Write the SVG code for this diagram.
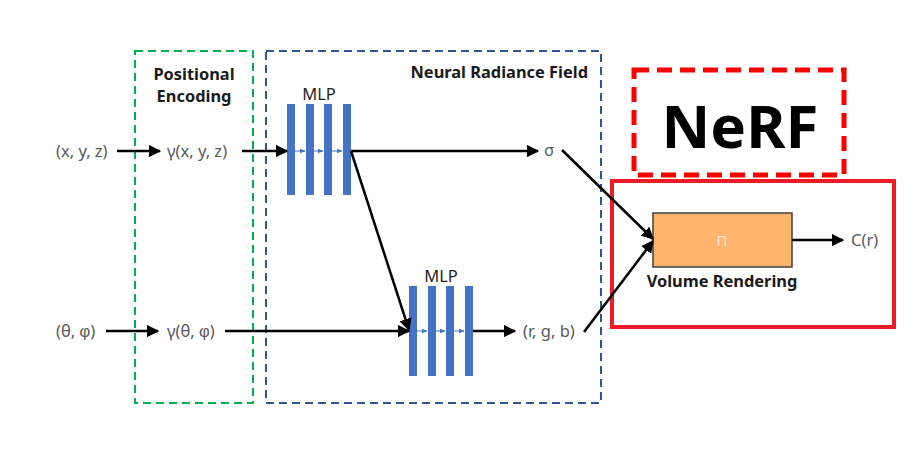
<svg xmlns="http://www.w3.org/2000/svg" width="924" height="451" viewBox="0 0 924 451">
<defs>
<marker id="ah" viewBox="0 0 10 10" refX="9" refY="5" markerWidth="5" markerHeight="5" orient="auto" markerUnits="strokeWidth"><path d="M0,0 L10,5 L0,10 z" fill="#000"/></marker>
<marker id="ahs" viewBox="0 0 10 10" refX="9" refY="5" markerWidth="6" markerHeight="6" orient="auto" markerUnits="strokeWidth"><path d="M0,1 L10,5 L0,9 z" fill="#4472C4"/></marker>
<style>
.lbl{font-family:"Noto Sans","Open Sans",sans-serif;font-size:16.5px;fill:#595959}
.phi{font-family:"Liberation Sans",sans-serif}
.bold{font-family:"Noto Sans","Open Sans",sans-serif;font-size:16.4px;font-weight:bold;fill:#1a1a1a}
.mlp{font-family:"Noto Sans","Open Sans",sans-serif;font-size:16.5px;fill:#262626}
.bar{fill:#4472C4}
.c{stroke:#000;stroke-width:2.5;fill:none;marker-end:url(#ah)}
.s{stroke:#4472C4;stroke-width:1;fill:none;marker-end:url(#ahs)}
</style>
</defs>
<rect width="924" height="451" fill="#fff"/>
<g id="pe-box">
<rect x="135" y="51" width="118" height="352" fill="none" stroke="#00B050" stroke-width="2" stroke-dasharray="8,5"/>
<text class="bold" x="194" y="80" text-anchor="middle">Positional</text>
<text class="bold" x="194" y="102" text-anchor="middle">Encoding</text>
</g>
<g id="nrf-box">
<rect x="266" y="51" width="335" height="352" fill="none" stroke="#2F5597" stroke-width="2" stroke-dasharray="8,5"/>
<text class="bold" x="588" y="78" text-anchor="end">Neural Radiance Field</text>
</g>
<g id="nerf-title">
<rect x="634" y="70" width="210" height="105" fill="none" stroke="#FF0000" stroke-width="5" stroke-dasharray="15,8"/>
<text x="740" y="148" text-anchor="middle" font-family="'Noto Sans','Open Sans',sans-serif" font-size="60" font-weight="bold" fill="#000">NeRF</text>
</g>
<g id="vr-box">
<rect x="612" y="181" width="282" height="146" fill="none" stroke="#ED1C24" stroke-width="4"/>
</g>
<g id="in-xyz"><text class="lbl" x="56" y="157">(x, y, z)</text></g>
<g id="in-dir"><text class="lbl" x="56" y="337">(θ, <tspan class="phi">φ</tspan>)</text></g>
<g id="pe-xyz"><text class="lbl" x="167" y="157">γ(x, y, z)</text></g>
<g id="pe-dir"><text class="lbl" x="167" y="337">γ(θ, <tspan class="phi">φ</tspan>)</text></g>
<g id="mlp1">
<text class="mlp" x="319" y="100" text-anchor="middle">MLP</text>
<rect class="bar" x="287" y="104" width="8" height="91"/>
<rect class="bar" x="306" y="104" width="8" height="91"/>
<rect class="bar" x="324" y="104" width="8" height="91"/>
<rect class="bar" x="343" y="104" width="8" height="91"/>
<line class="s" x1="295" y1="151" x2="305" y2="151"/>
<line class="s" x1="314" y1="151" x2="323" y2="151"/>
<line class="s" x1="332" y1="151" x2="342" y2="151"/>
</g>
<g id="mlp2">
<text class="mlp" x="441" y="282" text-anchor="middle">MLP</text>
<rect class="bar" x="409" y="286" width="8" height="90"/>
<rect class="bar" x="428" y="286" width="8" height="90"/>
<rect class="bar" x="446" y="286" width="8" height="90"/>
<rect class="bar" x="465" y="286" width="8" height="90"/>
<line class="s" x1="417" y1="331" x2="427" y2="331"/>
<line class="s" x1="436" y1="331" x2="445" y2="331"/>
<line class="s" x1="454" y1="331" x2="464" y2="331"/>
</g>
<g id="sigma"><text class="lbl" x="549" y="156" text-anchor="middle">σ</text></g>
<g id="rgb"><text class="lbl" x="523" y="337">(r, g, b)</text></g>
<g id="render">
<rect x="653" y="213" width="139" height="54" fill="#FFB46C" stroke="#404040" stroke-width="1.5"/>
<text x="722" y="246" text-anchor="middle" font-family="'Noto Sans','Open Sans',sans-serif" font-size="15" fill="#FFE8D0">Π</text>
<text class="bold" x="722" y="287" text-anchor="middle">Volume Rendering</text>
</g>
<g id="out"><text class="lbl" x="851" y="246">C(r)</text></g>
<g id="connectors">
<line class="c" x1="117" y1="151" x2="160" y2="151"/>
<line class="c" x1="242" y1="151" x2="287" y2="151"/>
<line class="c" x1="351" y1="151" x2="538" y2="151"/>
<line class="c" x1="351" y1="151" x2="409" y2="330"/>
<line class="c" x1="106" y1="331" x2="158" y2="331"/>
<line class="c" x1="225" y1="331" x2="409" y2="331"/>
<line class="c" x1="473" y1="331" x2="515" y2="331"/>
<line class="c" x1="562" y1="150" x2="653" y2="239"/>
<line class="c" x1="584" y1="332" x2="653" y2="241"/>
<line class="c" x1="792" y1="240" x2="843" y2="240"/>
</g>
</svg>
